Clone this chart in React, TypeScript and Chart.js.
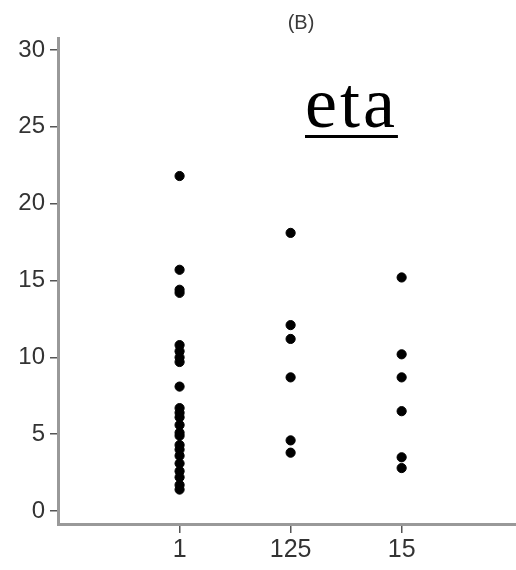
import React, { useEffect, useRef } from "react";
import { Chart, registerables } from "chart.js";

Chart.register(...registerables);

const categories = ["1", "125", "15"];
const group1 = [21.8, 15.7, 14.4, 14.2, 10.8, 10.4, 10.0, 9.7, 8.1, 6.7, 6.4, 6.1, 5.6, 5.1, 4.9, 4.3, 4.0, 3.6, 3.1, 2.6, 2.2, 1.7, 1.4];
const group125 = [18.1, 12.1, 11.2, 8.7, 4.6, 3.8];
const group15 = [15.2, 10.2, 8.7, 6.5, 3.5, 2.8];
const yTicks = [0, 5, 10, 15, 20, 25, 30];
const titleText = "(B)";
const overlayText = "eta";

const FONT = "'Liberation Sans', Arial, sans-serif";

export default function App() {
  const ref = useRef<HTMLCanvasElement | null>(null);
  useEffect(() => {
    if (!ref.current) return;
    const groups = [group1, group125, group15];
    const points: { x: number; y: number }[] = [];
    groups.forEach((g, i) => g.forEach((v) => points.push({ x: i + 1, y: v })));

    const titlePlugin = {
      id: "customTitle",
      afterDraw(chart: any) {
        const { ctx, chartArea } = chart;
        ctx.save();
        ctx.font = `20px ${FONT}`;
        ctx.fillStyle = "#3a3a3a";
        ctx.textAlign = "center";
        ctx.textBaseline = "middle";
        ctx.fillText(titleText, (chartArea.left + chartArea.right) / 2 + 14, 23);
        ctx.restore();
      },
    };

    const chart = new Chart(ref.current, {
      type: "scatter",
      data: {
        datasets: [
          {
            data: points,
            backgroundColor: "#000",
            borderColor: "#000",
            pointRadius: 4.6,
            pointHoverRadius: 4.6,
            pointStyle: "circle",
          },
        ],
      },
      options: {
        animation: false,
        responsive: false,
        layout: { autoPadding: false, padding: { top: 38, left: 0, right: 0, bottom: 0 } },
        plugins: { legend: { display: false }, tooltip: { enabled: false }, title: { display: false } },
        scales: {
          x: {
            type: "linear",
            min: -0.095,
            max: 4.03,
            afterBuildTicks: (s: any) => {
              s.ticks = categories.map((_, i) => ({ value: i + 1 }));
            },
            afterFit: (s: any) => {
              s.height = 46;
            },
            ticks: {
              callback: (v: any) => categories[Number(v) - 1] ?? "",
              font: { family: FONT, size: 25 },
              color: "#333",
              padding: 2,
              maxRotation: 0,
              autoSkip: false,
            },
            grid: { drawOnChartArea: false, drawTicks: true, tickLength: 9, color: "#555", lineWidth: 1.5 },
            border: { display: true, color: "#999", width: 3 },
          },
          y: {
            min: -0.84,
            max: 30.78,
            afterBuildTicks: (s: any) => {
              s.ticks = yTicks.map((v) => ({ value: v }));
            },
            afterFit: (s: any) => {
              s.width = 58;
            },
            ticks: {
              font: { family: FONT, size: 24 },
              color: "#333",
              padding: 5,
              autoSkip: false,
            },
            grid: { drawOnChartArea: false, drawTicks: true, tickLength: 8, color: "#555", lineWidth: 1.5 },
            border: { display: true, color: "#999", width: 3 },
          },
        },
      },
      plugins: [titlePlugin],
    });
    return () => chart.destroy();
  }, []);

  return (
    <div style={{ position: "fixed", left: 0, top: 0, width: 516, height: 570, background: "#fff" }}>
      <canvas ref={ref} width={516} height={570} style={{ display: "block", width: 516, height: 570 }} />
      <div
        style={{
          position: "absolute",
          left: 305,
          top: 63,
          fontFamily: "'Liberation Serif', serif",
          fontSize: 72,
          lineHeight: "80px",
          letterSpacing: 3,
          textDecoration: "underline",
          textDecorationThickness: 3,
          textUnderlineOffset: 8,
          color: "#000",
          whiteSpace: "nowrap",
        }}
      >
        {overlayText}
      </div>
    </div>
  );
}
